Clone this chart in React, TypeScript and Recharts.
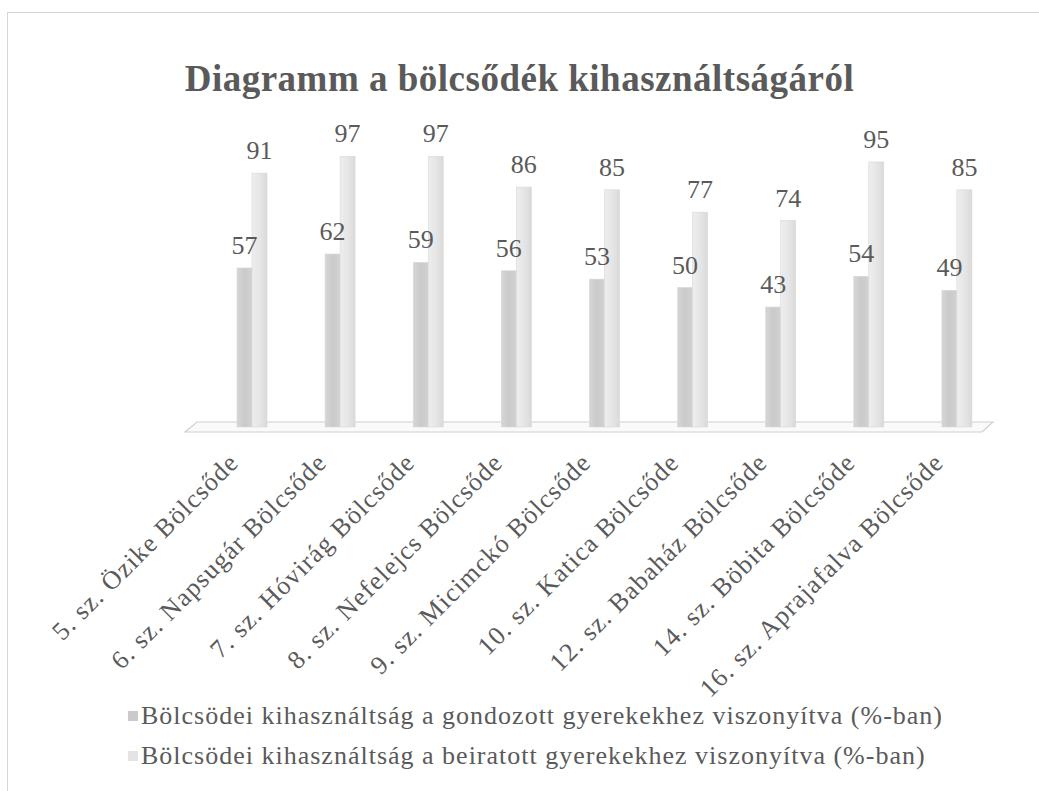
import React from 'react';
import { BarChart, Bar, XAxis, YAxis, LabelList, ReferenceArea } from 'recharts';

const categories = [
    '5. sz. Özike Bölcsőde',
    '6. sz. Napsugár Bölcsőde',
    '7. sz. Hóvirág Bölcsőde',
    '8. sz. Nefelejcs Bölcsőde',
    '9. sz. Micimckó Bölcsőde',
    '10. sz. Katica Bölcsőde',
    '12. sz. Babaház Bölcsőde',
    '14. sz. Böbita Bölcsőde',
    '16. sz. Aprajafalva Bölcsőde',
];
const gondozott = [57, 62, 59, 56, 53, 50, 43, 54, 49];
const beiratott = [91, 97, 97, 86, 85, 77, 74, 95, 85];
const seriesNames = [
    'Bölcsödei kihasználtság a gondozott gyerekekhez viszonyítva (%-ban)',
    'Bölcsödei kihasználtság a beiratott gyerekekhez viszonyítva (%-ban)',
];

const data = categories.map((name, i) => ({ name, gondozott: gondozott[i], beiratott: beiratott[i] }));

const FONT = '"Liberation Serif", "Times New Roman", serif';
const TEXT = '#5a5a5a';
const C1 = '#cacaca';
const C2 = '#e4e4e4';

// x-axis tick, rotated 45 degrees like the original
const Tick = (props: any) => {
    const { x, y, payload } = props;
    return (
        <text
            transform={`translate(${x - 12}, ${y + 29}) rotate(-45)`}
            textAnchor="end"
            style={{ fontFamily: FONT, fontSize: 26, letterSpacing: 1.2 }}
            fill={TEXT}
        >
            {payload.value}
        </text>
    );
};

// the flat "floor" of the 3D chart
const Floor = (props: any) => {
    const { x, y, width, height } = props;
    const base = y + height;
    const pts = [
        [x - 23, base + 5],
        [x - 11, base - 5],
        [x + width - 8, base - 5],
        [x + width - 19, base + 5],
    ];
    return <polygon points={pts.map((p) => p.join(',')).join(' ')} fill="#fafafa" stroke="#cfcfcf" strokeWidth={1.2} />;
};

const Column = (props: any) => {
    const { x, y, width, height, fill } = props;
    if (!height || height <= 0) return null;
    return <rect x={x} y={y} width={width} height={height} fill={fill} stroke="#d8d8d8" strokeWidth={0.6} />;
};

const ValueLabel = (props: any) => {
    const { x, y, width, value } = props;
    return (
        <text
            x={x + width / 2}
            y={y - 14}
            textAnchor="middle"
            style={{ fontFamily: FONT, fontSize: 26 }}
            fill={TEXT}
        >
            {value}
        </text>
    );
};

const App: React.FC = () => {
    return (
        <div style={{ position: 'fixed', left: 0, top: 0, width: 1039, height: 791, background: '#fff', fontFamily: FONT }}>
            <div
                style={{
                    position: 'absolute',
                    left: 7,
                    top: 12,
                    width: 1040,
                    height: 790,
                    borderLeft: '1px solid #d6d6d6',
                    borderTop: '1px solid #d6d6d6',
                    boxSizing: 'border-box',
                }}
            />
            <div
                style={{
                    position: 'absolute',
                    top: 57,
                    left: 0,
                    width: 1039,
                    textAlign: 'center',
                    fontWeight: 'bold',
                    fontSize: 37,
                    color: TEXT,
                    letterSpacing: 0.5,
                }}
            >
                Diagramm a bölcsődék kihasználtságáról
            </div>
            <BarChart
                width={1039}
                height={791}
                data={data}
                margin={{ top: 148, right: 38, bottom: 64, left: 208 }}
                barGap={0}
                style={{ position: 'absolute', left: 0, top: 0 }}
            >
                <defs>
                    <linearGradient id="g1" x1="0" y1="0" x2="1" y2="0">
                        <stop offset="0%" stopColor="#d6d6d6" />
                        <stop offset="50%" stopColor={C1} />
                        <stop offset="100%" stopColor="#d2d2d2" />
                    </linearGradient>
                    <linearGradient id="g2" x1="0" y1="0" x2="1" y2="0">
                        <stop offset="0%" stopColor="#eeeeee" />
                        <stop offset="60%" stopColor={C2} />
                        <stop offset="100%" stopColor="#d9d9d9" />
                    </linearGradient>
                </defs>
                <XAxis dataKey="name" axisLine={false} tickLine={false} interval={0} height={300} tick={<Tick />} />
                <YAxis hide domain={[0, 100]} />
                <ReferenceArea y1={0} y2={2} shape={<Floor />} ifOverflow="visible" />
                <Bar dataKey="gondozott" fill="url(#g1)" barSize={15} shape={<Column />} isAnimationActive={false}>
                    <LabelList dataKey="gondozott" content={<ValueLabel />} />
                </Bar>
                <Bar dataKey="beiratott" fill="url(#g2)" barSize={15} shape={<Column />} isAnimationActive={false}>
                    <LabelList dataKey="beiratott" content={<ValueLabel />} />
                </Bar>
            </BarChart>
            <div style={{ position: 'absolute', left: 128, top: 696, color: TEXT, fontSize: 26, letterSpacing: 1 }}>
                {seriesNames.map((n, i) => (
                    <div key={n} style={{ display: 'flex', alignItems: 'center', height: 40, whiteSpace: 'nowrap' }}>
                        <span
                            style={{
                                width: 10,
                                height: 10,
                                background: i === 0 ? C1 : C2,
                                marginRight: 3,
                                display: 'inline-block',
                            }}
                        />
                        {n}
                    </div>
                ))}
            </div>
        </div>
    );
};

export default App;
